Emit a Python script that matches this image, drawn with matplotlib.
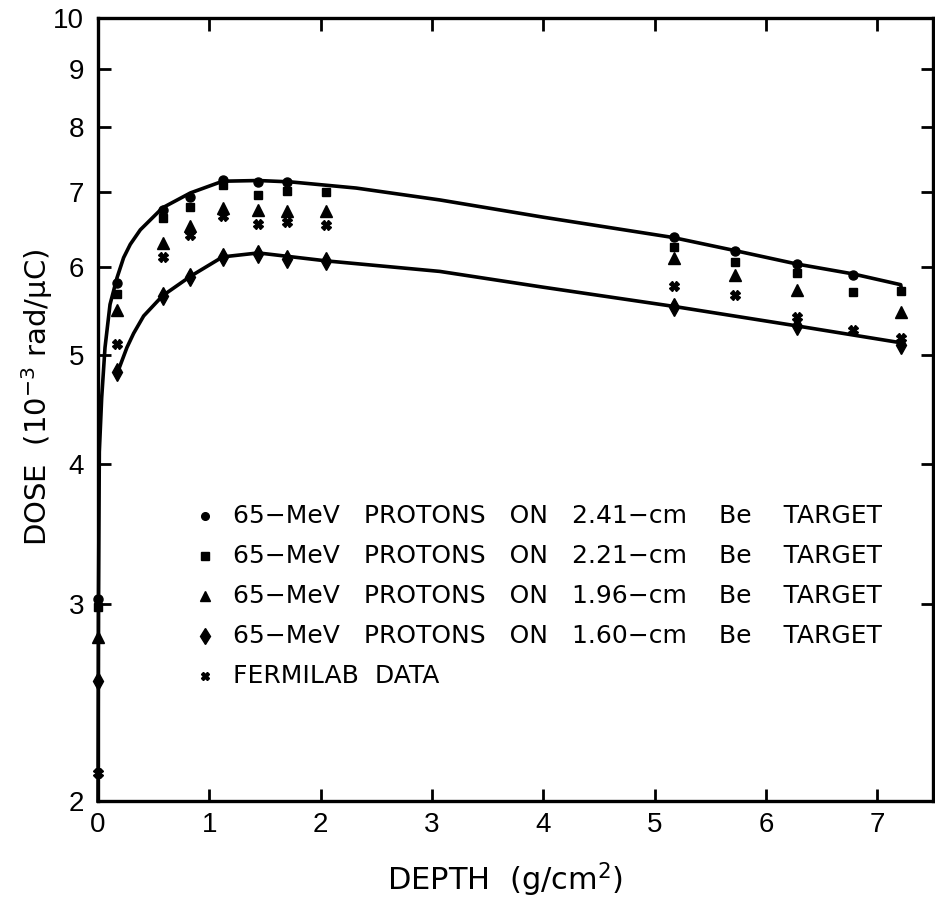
import matplotlib
matplotlib.use('Agg')
import matplotlib.pyplot as plt
from matplotlib.ticker import FixedLocator, FixedFormatter, NullLocator

# ---------------- data ----------------
x_circ = [0.0, 0.17, 0.58, 0.83, 1.12, 1.44, 1.70, 5.17, 5.72, 6.28, 6.78]
y_circ = [3.03, 5.80, 6.74, 6.92, 7.17, 7.14, 7.14, 6.38, 6.20, 6.03, 5.90]

x_sq = [0.0, 0.17, 0.58, 0.83, 1.12, 1.44, 1.70, 2.05, 5.17, 5.72, 6.28, 6.78, 7.21]
y_sq = [2.98, 5.67, 6.63, 6.78, 7.10, 6.95, 7.01, 7.00, 6.25, 6.06, 5.92, 5.69, 5.70]

x_tri = [0.0, 0.17, 0.58, 0.83, 1.12, 1.44, 1.70, 2.05, 5.17, 5.72, 6.28, 7.21]
y_tri = [2.80, 5.49, 6.30, 6.52, 6.77, 6.74, 6.73, 6.72, 6.11, 5.90, 5.72, 5.47]

x_dia = [0.0, 0.17, 0.58, 0.83, 1.12, 1.44, 1.70, 2.05, 5.17, 6.28, 7.21]
y_dia = [2.56, 4.83, 5.65, 5.87, 6.12, 6.16, 6.09, 6.07, 5.52, 5.31, 5.11]

x_fer = [0.0, 0.17, 0.58, 0.83, 1.12, 1.44, 1.70, 2.05, 5.17, 5.72, 6.28, 6.78, 7.21]
y_fer = [2.12, 5.12, 6.12, 6.40, 6.66, 6.55, 6.58, 6.54, 5.76, 5.66, 5.41, 5.27, 5.18]

# fitted curves
x_upper = [0.0, 0.004, 0.012, 0.033, 0.063, 0.108, 0.17, 0.23, 0.29, 0.38, 0.58,
           0.83, 1.12, 1.44, 1.73, 2.32, 3.07, 4.0, 5.16, 5.72, 6.28, 6.78, 7.21, 7.22]
y_upper = [2.0, 3.0, 4.1, 4.58, 5.08, 5.55, 5.86, 6.11, 6.28, 6.47, 6.77,
           6.98, 7.15, 7.16, 7.14, 7.05, 6.88, 6.64, 6.37, 6.20, 6.03, 5.91, 5.78, 5.70]

x_lower = [0.17, 0.26, 0.32, 0.41, 0.58, 0.83, 1.12, 1.44, 2.05, 3.07, 4.0,
           5.16, 6.28, 7.21]
y_lower = [4.81, 5.08, 5.23, 5.42, 5.65, 5.88, 6.12, 6.17, 6.07, 5.94, 5.75,
           5.53, 5.31, 5.13]

labels = ["65\u2212MeV   PROTONS   ON   2.41\u2212cm    Be    TARGET",
          "65\u2212MeV   PROTONS   ON   2.21\u2212cm    Be    TARGET",
          "65\u2212MeV   PROTONS   ON   1.96\u2212cm    Be    TARGET",
          "65\u2212MeV   PROTONS   ON   1.60\u2212cm    Be    TARGET",
          "FERMILAB  DATA"]

x_ticks = [0, 1, 2, 3, 4, 5, 6, 7]
y_ticks = [2, 3, 4, 5, 6, 7, 8, 9, 10]

# ---------------- plot ----------------
plt.rcParams['font.family'] = ['DejaVu Sans']
plt.rcParams['mathtext.fontset'] = 'dejavusans'

fig = plt.figure(figsize=(9.35, 8.97), dpi=100)
ax = fig.add_axes([98 / 935, (897 - 801) / 897, (933 - 98) / 935, (801 - 18) / 897])
ax.set_yscale('log')
ax.set_xlim(0, 7.5)
ax.set_ylim(2, 10)

ax.plot(x_upper, y_upper, color='black', lw=2.6, zorder=2, clip_on=False)
ax.plot(x_lower, y_lower, color='black', lw=2.6, zorder=2)

kw = dict(ls='none', color='black', zorder=3, clip_on=False)
series = [
    (x_circ, y_circ, 'o', 6.5),
    (x_sq, y_sq, 's', 6.0),
    (x_tri, y_tri, '^', 8.5),
    (x_dia, y_dia, 'd', 9.0),
    (x_fer, y_fer, 'X', 6.5),
]
for xs, ys, m, ms in series:
    ax.plot(xs, ys, marker=m, ms=ms, **kw)

# legend, drawn row by row (positions in axes fraction)
leg_x_marker = 0.128
leg_x_text = 0.162
leg_y0 = 0.364
leg_dy = 0.051
leg_ms = {'o': 5.5, 's': 5.5, '^': 7.5, 'd': 8.0, 'X': 6.0}
for i, ((xs, ys, m, ms), lab) in enumerate(zip(series, labels)):
    yy = leg_y0 - i * leg_dy
    ax.plot([leg_x_marker], [yy], marker=m, ms=leg_ms[m], color='black',
            ls='none', transform=ax.transAxes)
    ax.text(leg_x_text, yy, lab, transform=ax.transAxes, fontsize=18,
            va='center', ha='left')

ax.xaxis.set_major_locator(FixedLocator(x_ticks))
ax.xaxis.set_major_formatter(FixedFormatter([str(t) for t in x_ticks]))
ax.yaxis.set_major_locator(FixedLocator(y_ticks))
ax.yaxis.set_major_formatter(FixedFormatter([str(t) for t in y_ticks]))
ax.yaxis.set_minor_locator(NullLocator())
ax.xaxis.set_minor_locator(NullLocator())

ax.tick_params(which='major', direction='in', length=9, width=2,
               top=True, right=True, labelsize=20,
               labelfontfamily='Liberation Sans')
ax.tick_params(axis='y', pad=10)
ax.tick_params(axis='x', pad=8)
for s in ax.spines.values():
    s.set_linewidth(2.4)

ax.set_xlabel("DEPTH  (g/cm$^{2}$)", fontsize=22, labelpad=16)
ax.xaxis.label.set_x(0.487)
ax.set_ylabel("DOSE  (10$^{-3}$ rad/\u03bcC)", fontsize=21)
ax.yaxis.set_label_coords(-0.052, 0.516)

fig.savefig('out.png', dpi=100)
